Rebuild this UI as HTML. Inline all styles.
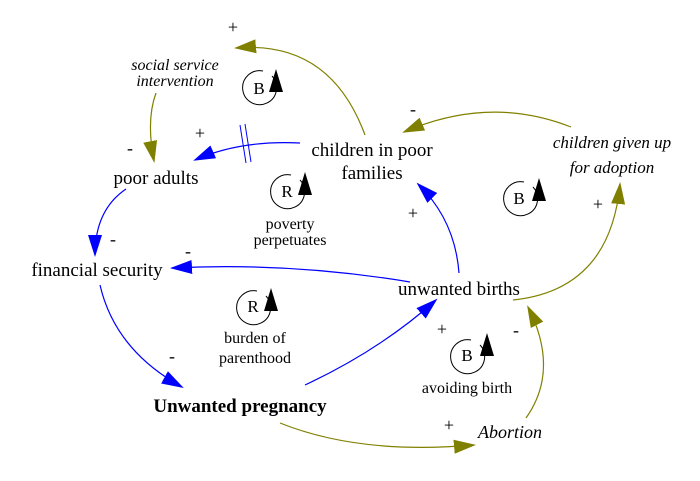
<!DOCTYPE html>
<html><head><style>
html,body{margin:0;padding:0;background:#fff}
svg{display:block}
svg text{font-family:"Liberation Serif","DejaVu Serif",serif !important;fill:#000}
</style></head><body>
<svg width="700" height="481" viewBox="0 0 700 481" font-family="Liberation Serif, serif">
<defs>
<marker id="ab" markerWidth="22" markerHeight="14" refX="20" refY="7" orient="auto" markerUnits="userSpaceOnUse"><path d="M0,0 L22,7 L0,14 z" fill="#0000ff"/></marker>
<marker id="ao" markerWidth="22" markerHeight="14" refX="20" refY="7" orient="auto" markerUnits="userSpaceOnUse"><path d="M0,0 L22,7 L0,14 z" fill="#808000"/></marker>
</defs>
<g fill="none" stroke-width="1.2">
<path d="M365,135 Q330,40 236,48" stroke="#808000" marker-end="url(#ao)"/>
<path d="M156,93 Q146,120 154,161" stroke="#808000" marker-end="url(#ao)"/>
<path d="M300,143 Q240,140 195,160" stroke="#0000ff" marker-end="url(#ab)"/>
<path d="M126,189 Q95,210 95,255" stroke="#0000ff" marker-end="url(#ab)"/>
<path d="M410,282 Q290,262 172,268" stroke="#0000ff" marker-end="url(#ab)"/>
<path d="M100,285 Q115,350 182,387" stroke="#0000ff" marker-end="url(#ab)"/>
<path d="M305,385 Q380,350 436,300" stroke="#0000ff" marker-end="url(#ab)"/>
<path d="M459,273 Q455,220 418,184" stroke="#0000ff" marker-end="url(#ab)"/>
<path d="M571,127 Q490,95 404,132" stroke="#808000" marker-end="url(#ao)"/>
<path d="M513,300 Q610,290 620,184" stroke="#808000" marker-end="url(#ao)"/>
<path d="M280,423 Q360,455 474,445" stroke="#808000" marker-end="url(#ao)"/>
<path d="M526,418 Q560,370 528,307" stroke="#808000" marker-end="url(#ao)"/>
<path d="M240,125 L246,163 M245,124 L251,162" stroke="#0000ff" stroke-width="1"/>
</g>
<g fill="none" stroke="#000" stroke-width="1">
<path d="M272,76 A17,17 0 1 1 263,71"/>
<path d="M300,180 A17,17 0 1 1 291,175"/>
<path d="M266,296 A17,17 0 1 1 257,291"/>
<path d="M533,187 A17,17 0 1 1 524,182"/>
<path d="M480,345 A17,17 0 1 1 471,340"/>
</g>
<g fill="#000">
<path d="M276,69 L283,92 L269,92 z"/>
<path d="M305,172 L312,195 L298,195 z"/>
<path d="M271,288 L278,311 L264,311 z"/>
<path d="M539,178 L546,201 L532,201 z"/>
<path d="M487,333 L494,356 L480,356 z"/>
</g>
<g font-size="17" text-anchor="middle">
<text x="259" y="94">B</text>
<text x="287" y="197">R</text>
<text x="253" y="312">R</text>
<text x="519" y="204">B</text>
<text x="467" y="361">B</text>
</g>
<g font-size="19" text-anchor="middle">
<text x="372" y="156">children in poor</text>
<text x="372" y="179">families</text>
<text x="156" y="184">poor adults</text>
<text x="97" y="276">financial security</text>
<text x="459" y="295">unwanted births</text>
<text x="240" y="412" font-weight="bold">Unwanted pregnancy</text>
</g>
<g font-size="16" font-style="italic" text-anchor="middle">
<text x="175" y="70">social service</text>
<text x="175" y="86">intervention</text>
<text x="612" y="148" font-size="17">children given up</text>
<text x="612" y="173" font-size="17">for adoption</text>
<text x="510" y="438" font-size="18">Abortion</text>
</g>
<g font-size="16" text-anchor="middle">
<text x="290" y="229">poverty</text>
<text x="290" y="245">perpetuates</text>
<text x="255" y="343">burden of</text>
<text x="255" y="363">parenthood</text>
<text x="467" y="393">avoiding birth</text>
</g>
<g font-size="18" text-anchor="middle">
<text x="233" y="33">+</text>
<text x="130" y="154">-</text>
<text x="200" y="139">+</text>
<text x="113" y="245">-</text>
<text x="188" y="257">-</text>
<text x="172" y="362">-</text>
<text x="442" y="335">+</text>
<text x="413" y="219">+</text>
<text x="413" y="115">-</text>
<text x="598" y="210">+</text>
<text x="449" y="431">+</text>
<text x="516" y="336">-</text>
</g>
</svg>
</body></html>
